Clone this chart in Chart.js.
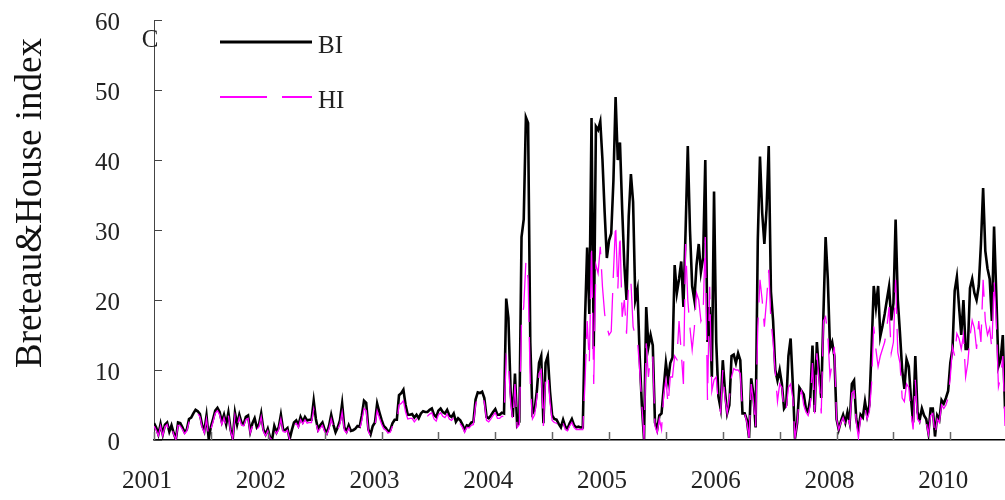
<!DOCTYPE html>
<html><head><meta charset="utf-8">
<script src="https://cdn.jsdelivr.net/npm/chart.js@4.4.1/dist/chart.umd.min.js"></script>
<style>html,body{margin:0;padding:0;background:#fff}#wrap{width:1005px;height:500px;position:relative}</style>
</head><body><div id="wrap"><canvas id="c"></canvas></div>
<script>
// Weekly Breteau index (BI) and House index (HI)
const BI = [
2.4,1.8,0.8,2.3,0.8,2.2,2.5,1.2,2.1,1.0,
0.1,2.5,2.4,1.8,1.1,1.5,3.0,3.2,3.8,4.3,
4.1,3.7,2.1,1.3,3.5,0.2,1.9,3.0,4.2,4.6,
4.0,2.6,3.6,2.2,3.9,1.5,0.2,3.9,2.2,3.6,
2.5,2.3,3.3,3.5,1.2,2.4,3.1,1.8,2.2,3.8,
1.5,0.8,1.6,0.4,0.1,2.0,1.1,1.8,3.6,1.5,
1.4,1.7,0.1,1.4,2.5,2.8,2.1,3.3,2.6,3.3,
2.8,2.9,2.9,5.6,3.0,1.5,2.1,2.5,1.5,1.0,
2.0,3.6,2.2,1.1,1.8,2.8,5.2,1.8,1.2,2.1,
1.3,1.4,1.6,2.0,1.9,3.5,5.6,5.3,1.5,0.8,
2.0,2.5,5.2,4.0,2.9,2.0,1.7,1.2,1.4,2.4,
2.9,2.9,6.4,6.7,7.2,5.0,3.6,3.6,3.7,3.2,
3.6,3.1,3.8,4.1,4.0,4.0,4.3,4.5,3.6,3.3,
4.2,4.5,4.0,3.8,4.3,3.5,3.3,3.8,2.6,3.1,
2.8,2.2,1.4,2.1,2.0,2.5,2.6,5.8,6.8,6.7,
6.9,6.0,3.3,3.1,3.5,4.0,4.4,3.6,3.6,3.9,
3.8,20.2,17.4,7.0,3.3,9.5,2.1,2.6,29.0,31.5,
46.1,45.3,14.0,3.8,4.3,7.0,11.0,12.0,2.4,11.0,
12.0,7.0,3.5,3.0,2.9,2.3,1.8,2.9,1.9,1.6,
2.4,3.0,2.1,1.8,1.9,1.8,1.8,17.0,27.5,18.0,
46.0,13.0,44.8,44.3,45.5,40.0,32.5,26.0,28.5,29.5,
37.0,49.0,40.0,42.5,33.0,25.0,20.0,32.0,38.0,34.0,
20.0,21.5,12.0,5.0,0.1,19.0,13.3,15.0,13.5,2.5,
1.5,3.5,3.8,7.5,11.0,8.5,11.0,11.8,25.0,21.0,
23.0,25.5,19.0,30.0,42.0,30.0,22.0,20.0,25.0,28.0,
24.0,26.0,40.0,14.0,19.0,9.0,35.5,14.0,6.2,4.5,
11.4,7.0,3.8,5.0,12.0,12.2,11.0,12.4,11.4,3.8,
3.8,2.9,0.3,8.8,6.5,1.8,28.6,40.5,32.5,28.0,
33.0,42.0,21.2,17.0,10.0,8.5,10.0,8.0,4.5,5.0,
12.0,14.5,8.0,0.2,2.5,7.5,7.0,6.5,4.5,4.0,
6.0,13.5,4.0,14.0,9.5,6.0,18.0,29.0,23.0,13.1,
14.0,12.0,3.0,1.5,2.7,3.6,2.5,4.0,2.5,8.0,
8.5,3.0,1.5,3.6,3.2,5.5,3.5,5.0,13.0,22.0,
19.0,22.0,14.8,16.3,18.0,20.0,21.9,17.1,19.5,31.5,
20.0,15.2,10.0,7.3,11.5,10.5,6.0,2.5,12.0,4.0,
2.9,4.5,3.5,3.0,1.0,4.5,4.5,0.5,3.5,2.9,
5.7,5.2,6.0,7.0,11.0,13.0,21.3,23.3,19.0,15.0,
20.0,13.0,13.0,21.7,23.0,21.0,20.0,22.0,28.0,36.0,
27.0,24.5,23.0,17.0,30.5,21.0,10.5,11.5,15.0,4.5
];
const HI = [
2.0,1.4,0.6,2.0,0.6,1.9,2.2,1.0,1.8,0.8,
0.1,2.1,2.0,1.5,0.9,1.3,2.6,2.9,3.5,4.0,
3.8,3.3,1.8,1.0,3.0,0.4,1.5,2.6,3.8,4.2,
3.6,2.2,3.2,1.9,3.5,1.2,0.2,3.5,1.9,3.2,
2.1,2.0,2.9,3.1,1.0,2.0,2.7,1.5,1.9,3.3,
1.2,0.6,1.3,0.3,0.1,1.7,0.9,1.5,3.0,1.2,
1.1,1.4,0.1,1.1,2.1,2.4,1.8,2.9,2.3,2.9,
2.4,2.5,2.5,4.4,2.4,1.2,1.7,2.1,1.2,0.8,
1.6,3.0,1.8,0.9,1.5,2.3,4.0,1.4,1.0,1.7,
1.0,1.1,1.3,1.6,1.5,2.8,4.5,4.2,1.2,0.6,
1.6,2.0,4.2,3.2,2.3,1.6,1.4,1.0,1.1,2.0,
2.4,2.4,5.0,5.2,5.6,4.0,3.0,3.1,3.1,2.6,
3.0,2.6,3.2,3.5,3.4,3.4,3.7,3.9,3.0,2.7,
3.6,3.9,3.4,3.2,3.7,3.0,2.8,3.2,2.1,2.6,
2.3,1.8,1.1,1.8,1.7,2.1,2.2,5.0,6.3,6.2,
6.3,5.4,2.8,2.6,3.0,3.5,3.9,3.1,3.1,3.4,
3.3,12.0,11.0,5.5,2.8,8.0,1.8,2.2,17.0,19.0,
25.5,23.0,8.0,3.0,3.6,6.0,9.5,10.0,2.0,9.0,
9.5,5.5,2.8,2.5,2.4,1.9,1.4,2.4,1.5,1.3,
2.0,2.5,1.8,1.5,1.5,1.5,1.5,8.0,17.0,11.0,
28.0,8.0,25.0,23.8,27.6,21.9,18.0,16.2,15.0,15.5,
23.8,31.0,21.4,29.5,17.6,20.0,15.2,22.9,22.6,16.2,
14.8,14.3,10.0,5.0,0.1,13.8,9.0,12.0,12.0,2.0,
1.0,3.0,1.5,6.5,8.6,5.0,9.0,9.0,12.0,11.5,
17.0,12.5,8.0,28.0,20.0,16.0,12.9,16.0,21.0,20.0,
17.0,18.0,29.0,5.7,21.9,7.0,8.6,9.0,5.0,4.0,
10.0,6.0,3.8,6.0,9.0,10.2,10.0,10.0,9.5,3.8,
3.8,2.5,0.3,8.0,5.5,1.7,16.2,22.9,20.0,16.2,
20.0,24.3,17.0,14.0,9.5,5.5,8.0,7.5,4.0,4.5,
7.5,8.0,6.0,0.2,2.5,6.0,7.0,5.0,4.0,3.5,
5.0,11.0,3.8,12.4,8.5,3.8,17.0,17.6,15.0,9.0,
11.0,13.3,3.0,1.5,2.5,3.2,2.2,3.5,2.2,6.7,
7.0,2.5,0.3,3.2,2.8,4.5,3.0,4.0,8.0,16.2,
12.9,10.5,12.0,13.0,14.0,16.0,19.0,12.4,14.0,22.9,
12.5,11.0,6.0,5.5,8.0,7.5,4.0,1.5,8.6,3.0,
2.5,3.5,3.0,2.5,0.8,3.5,3.8,0.5,3.0,2.5,
5.0,4.5,5.0,6.0,9.0,13.3,12.0,15.2,14.5,13.0,
15.0,9.0,11.0,14.8,17.1,16.0,13.0,17.0,14.0,22.9,
17.0,15.0,16.0,13.0,22.9,17.0,7.6,9.0,12.0,2.0
];
const yearLabels = ['2001','2002','2003','2004','2005','2006','2008','2010'];
const weeksPerLabel = 52;
const weeksPerTick = 26;
const yMax = 60;
const yStep = 10;
const yTitle = 'Breteau&House index';
const panelLabel = 'C';
const seriesNames = ['BI','HI'];

const SERIF = '"Liberation Serif", "DejaVu Serif", serif';
const toPts = arr => arr.map((v, i) => ({x: i, y: v}));

const extras = {
  id: 'extras',
  afterDraw(chart) {
    const ctx = chart.ctx;
    const xs = chart.scales.x, ys = chart.scales.y;
    const area = chart.chartArea;
    ctx.save();
    // inward tick marks
    ctx.strokeStyle = '#666'; ctx.lineWidth = 1.5;
    xs.ticks.forEach(t => {
      const px = Math.round(xs.getPixelForValue(t.value)) + 0.5;
      ctx.beginPath(); ctx.moveTo(px, area.bottom); ctx.lineTo(px, area.bottom - 8); ctx.stroke();
    });
    ctx.strokeStyle = '#444'; ctx.lineWidth = 1;
    ys.ticks.forEach(t => {
      const py = Math.round(ys.getPixelForValue(t.value)) + 0.5;
      ctx.beginPath(); ctx.moveTo(area.left, py); ctx.lineTo(area.left + 8, py); ctx.stroke();
    });
    // y title
    ctx.fillStyle = '#111';
    ctx.font = '37px ' + SERIF;
    ctx.save();
    ctx.translate(41, 203); ctx.rotate(-Math.PI / 2);
    ctx.textAlign = 'center'; ctx.textBaseline = 'alphabetic';
    ctx.fillText(yTitle, 0, 0);
    ctx.restore();
    // panel label
    ctx.font = '25px ' + SERIF;
    ctx.textAlign = 'center'; ctx.textBaseline = 'alphabetic';
    ctx.fillStyle = '#222';
    ctx.fillText(panelLabel, 150, 47);
    // legend
    const rows = [42, 97];
    chart.data.datasets.slice().sort((a, b) => seriesNames.indexOf(a.label) - seriesNames.indexOf(b.label)).forEach((ds, k) => {
      const y = rows[k];
      ctx.save();
      ctx.strokeStyle = ds.borderColor;
      ctx.lineWidth = ds.label === 'BI' ? 3 : 2.2;
      ctx.setLineDash(ds.borderDash || []);
      ctx.beginPath(); ctx.moveTo(220, y); ctx.lineTo(312, y); ctx.stroke();
      ctx.restore();
      ctx.fillStyle = '#222';
      ctx.font = '25px ' + SERIF;
      ctx.textAlign = 'left';
      ctx.fillText(ds.label, 318, y + 11);
    });
    ctx.restore();
  }
};

new Chart(document.getElementById('c'), {
  type: 'line',
  data: {
    datasets: [
      { label: seriesNames[1], data: toPts(HI), borderColor: '#ff00ff', borderWidth: 1.3,
        borderDash: [47, 15], pointRadius: 0, tension: 0, order: 0 },
      { label: seriesNames[0], data: toPts(BI), borderColor: '#000000', borderWidth: 2.6,
        pointRadius: 0, tension: 0, order: 1 }
    ]
  },
  options: {
    responsive: true,
    maintainAspectRatio: false,
    animation: false,
    devicePixelRatio: 1,
    layout: { padding: { top: 20, left: 0, right: 0, bottom: 0 } },
    plugins: { legend: { display: false }, tooltip: { enabled: false } },
    scales: {
      x: {
        type: 'linear', min: 0, max: BI.length - 1,
        grid: { display: false, drawTicks: false },
        border: { display: true, color: '#000', width: 1.5 },
        afterFit: s => { s.height = 60; s.paddingLeft = 0; s.paddingRight = 0; },
        ticks: {
          stepSize: weeksPerTick, includeBounds: false, autoSkip: false, maxRotation: 0,
          padding: 26, labelOffset: -7, color: '#222',
          font: { family: SERIF, size: 25 },
          callback: v => (v % weeksPerLabel === 0 ? (yearLabels[v / weeksPerLabel] || '') : '')
        }
      },
      y: {
        min: 0, max: yMax,
        grid: { display: false, drawTicks: false },
        border: { display: true, color: '#444', width: 1 },
        afterFit: s => { s.width = 154; s.paddingTop = 0; s.paddingBottom = 0; },
        ticks: { stepSize: yStep, padding: 34, color: '#222', labelOffset: 3,
          font: { family: SERIF, size: 25 } }
      }
    }
  },
  plugins: [extras]
});
</script>
</body></html>
